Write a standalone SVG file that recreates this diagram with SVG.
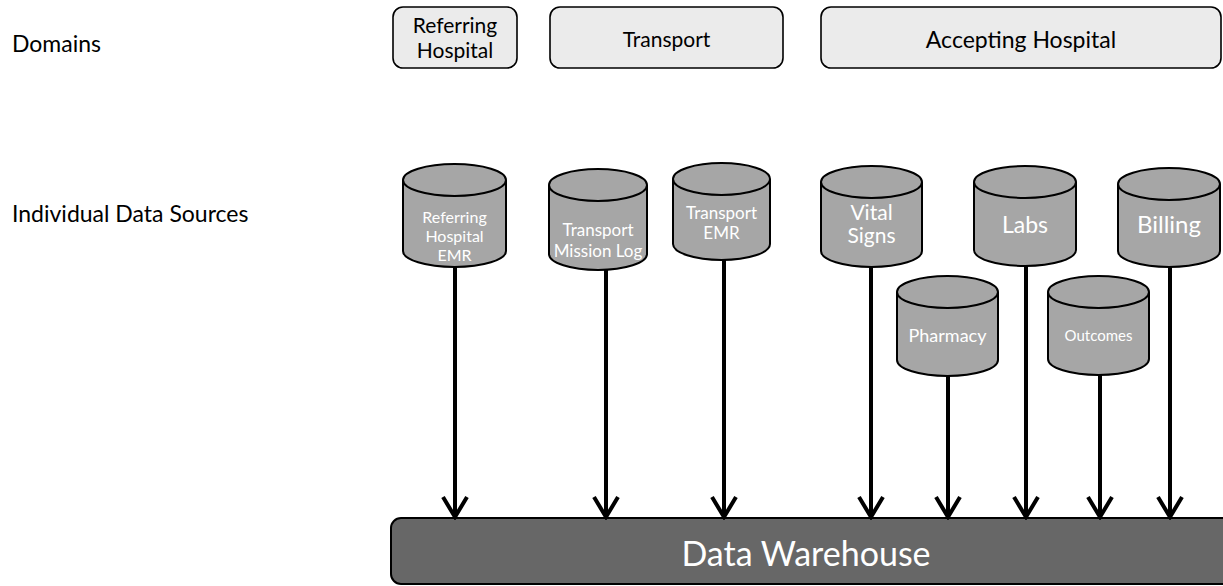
<svg xmlns="http://www.w3.org/2000/svg" width="1223" height="586" viewBox="0 0 1223 586">
  <defs>
    <style>
      text { font-family: Lato, "Open Sans", "Liberation Sans", sans-serif; }
      .side { font-size: 23px; fill: #000; }
      .domain rect { fill: #ebebeb; stroke: #000; stroke-width: 1.6; }
      .domain text { fill: #000; text-anchor: middle; }
      .db path, .db ellipse { fill: #a6a6a6; stroke: #000; stroke-width: 2; }
      .db text { fill: #fff; text-anchor: middle; }
      .wire { stroke: #000; stroke-width: 4; fill: none; }
      .warehouse rect { fill: #676767; stroke: #000; stroke-width: 2; }
      .warehouse text { fill: #fff; font-size: 34px; text-anchor: middle; }
    </style>
    <!-- open chevron head, drawn pointing along +x so orient="auto" turns it with the line -->
    <marker id="chevron" viewBox="0 0 26 30" refX="23" refY="15" markerWidth="26" markerHeight="30" markerUnits="userSpaceOnUse" orient="auto">
      <path d="M3 3 L23 15 L3 27" fill="none" stroke="#000" stroke-width="4"/>
    </marker>
  </defs>

  <!-- row labels -->
  <text class="side" x="12" y="52">Domains</text>
  <text class="side" x="12" y="222">Individual Data Sources</text>

  <!-- domains -->
  <g id="domain-referring" class="domain">
    <rect x="393" y="7" width="124" height="61" rx="10"/>
    <text x="455" y="33" font-size="21">Referring</text>
    <text x="455" y="58" font-size="21">Hospital</text>
  </g>
  <g id="domain-transport" class="domain">
    <rect x="550" y="7" width="233" height="61" rx="10"/>
    <text x="666.5" y="47" font-size="21">Transport</text>
  </g>
  <g id="domain-accepting" class="domain">
    <rect x="821" y="7" width="400" height="61" rx="10"/>
    <text x="1021" y="48" font-size="23">Accepting Hospital</text>
  </g>

  <!-- data sources (cylinders) -->
  <g id="src-referring-emr" class="db">
    <path d="M403 180 V251 A51.5 16 0 0 0 506 251 V180"/>
    <ellipse cx="454.5" cy="180" rx="51.5" ry="16"/>
    <text x="454.5" y="223" font-size="16">Referring</text>
    <text x="454.5" y="242" font-size="16">Hospital</text>
    <text x="454.5" y="261" font-size="16">EMR</text>
  </g>
  <g id="src-transport-log" class="db">
    <path d="M549 185 V254 A49 16 0 0 0 647 254 V185"/>
    <ellipse cx="598" cy="185" rx="49" ry="16"/>
    <text x="598" y="236" font-size="17">Transport</text>
    <text x="598" y="257" font-size="17">Mission Log</text>
  </g>
  <g id="src-transport-emr" class="db">
    <path d="M673 179 V244 A48.5 16 0 0 0 770 244 V179"/>
    <ellipse cx="721.5" cy="179" rx="48.5" ry="16"/>
    <text x="721.5" y="219" font-size="17">Transport</text>
    <text x="721.5" y="239" font-size="17">EMR</text>
  </g>
  <g id="src-vital-signs" class="db">
    <path d="M821 182 V251 A50.5 16 0 0 0 922 251 V182"/>
    <ellipse cx="871.5" cy="182" rx="50.5" ry="16"/>
    <text x="871.5" y="220" font-size="21">Vital</text>
    <text x="871.5" y="243" font-size="21">Signs</text>
  </g>
  <g id="src-pharmacy" class="db">
    <path d="M897 292 V360 A50.5 16 0 0 0 998 360 V292"/>
    <ellipse cx="947.5" cy="292" rx="50.5" ry="16"/>
    <text x="947.5" y="342" font-size="18">Pharmacy</text>
  </g>
  <g id="src-labs" class="db">
    <path d="M974 182 V250 A51 16 0 0 0 1076 250 V182"/>
    <ellipse cx="1025" cy="182" rx="51" ry="16"/>
    <text x="1025" y="233" font-size="23">Labs</text>
  </g>
  <g id="src-outcomes" class="db">
    <path d="M1048 292 V359 A50.5 16 0 0 0 1149 359 V292"/>
    <ellipse cx="1098.5" cy="292" rx="50.5" ry="16"/>
    <text x="1098.5" y="341" font-size="15">Outcomes</text>
  </g>
  <g id="src-billing" class="db">
    <path d="M1118 184 V251 A51 16 0 0 0 1220 251 V184"/>
    <ellipse cx="1169" cy="184" rx="51" ry="16"/>
    <text x="1169" y="233" font-size="24">Billing</text>
  </g>

  <!-- data warehouse -->
  <g id="data-warehouse" class="warehouse">
    <rect x="391" y="518" width="845" height="66" rx="10"/>
    <text x="806" y="566">Data Warehouse</text>
  </g>

  <!-- feeds into the warehouse -->
  <g id="connectors" class="wire">
    <line x1="455" y1="267" x2="455" y2="517" marker-end="url(#chevron)"/>
    <line x1="606" y1="270" x2="606" y2="517" marker-end="url(#chevron)"/>
    <line x1="724" y1="260" x2="724" y2="517" marker-end="url(#chevron)"/>
    <line x1="871" y1="267" x2="871" y2="517" marker-end="url(#chevron)"/>
    <line x1="948" y1="376" x2="948" y2="517" marker-end="url(#chevron)"/>
    <line x1="1026" y1="266" x2="1026" y2="517" marker-end="url(#chevron)"/>
    <line x1="1100" y1="375" x2="1100" y2="517" marker-end="url(#chevron)"/>
    <line x1="1170" y1="267" x2="1170" y2="517" marker-end="url(#chevron)"/>
  </g>
</svg>
